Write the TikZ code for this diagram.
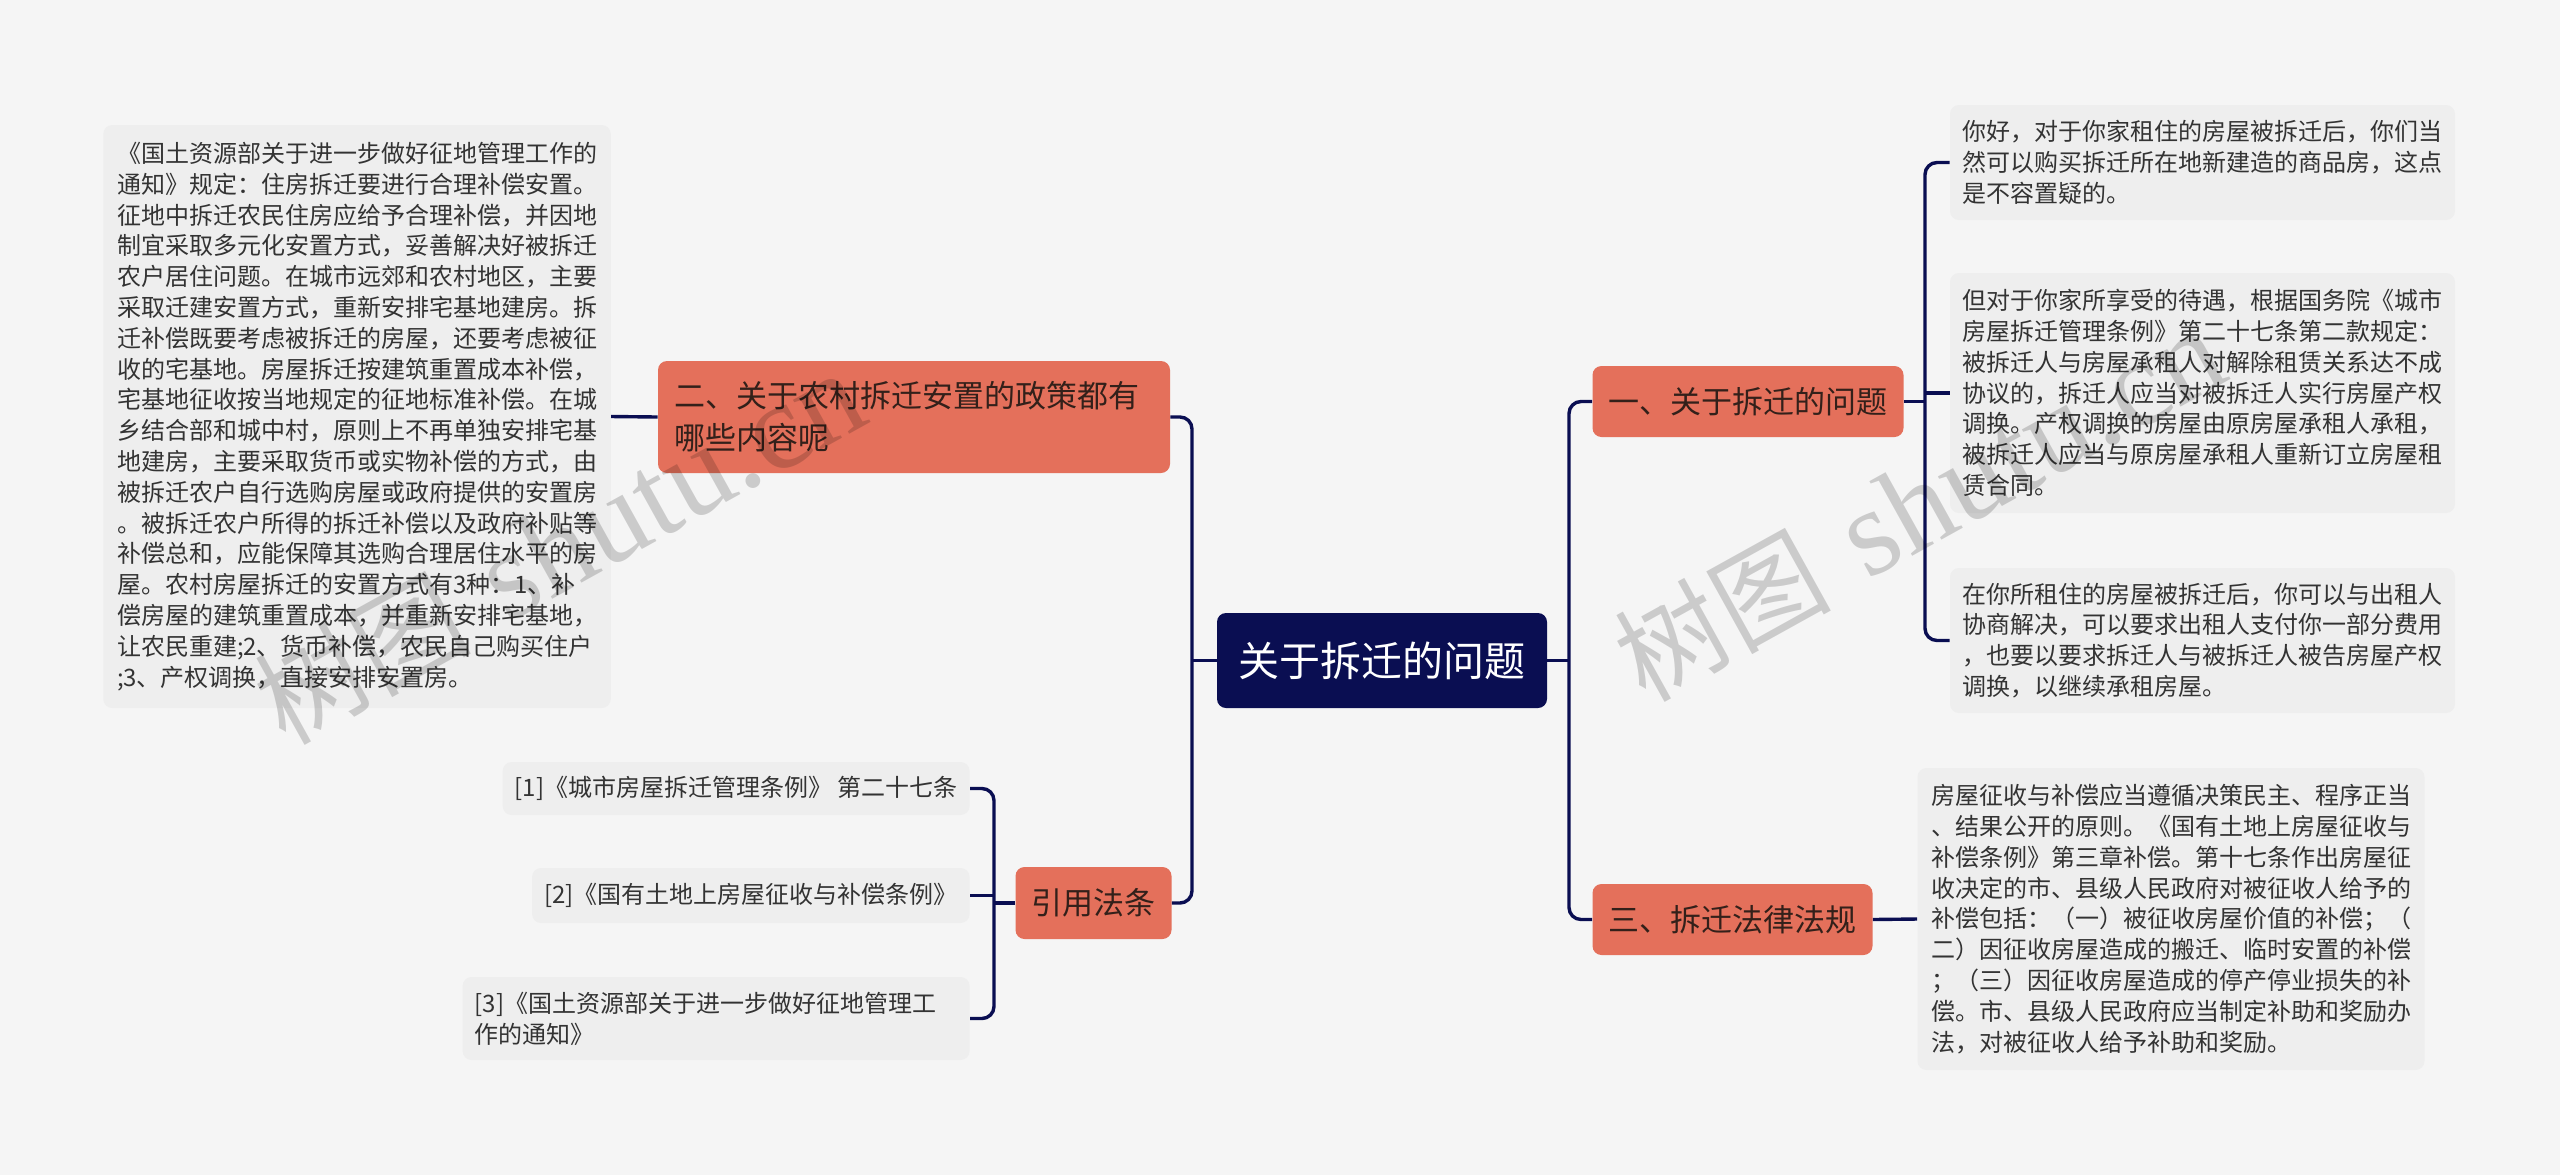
\documentclass[tikz,border=0pt]{standalone}
\usepackage{fontspec}
\setmainfont{Noto Sans CJK SC}
\newfontfamily\wmlatin{Liberation Serif}
\usetikzlibrary{positioning}
\definecolor{navy900} {HTML}{0A0E52}
\definecolor{coral500}{HTML}{E4705B}
\definecolor{coral900}{HTML}{33201A}
\definecolor{grey100} {HTML}{F5F5F5}
\definecolor{grey150} {HTML}{EEEEEE}
\definecolor{grey800} {HTML}{333333}
\tikzset{
  root/.style  ={fill=navy900, text=white, rounded corners=4.5pt,
                 inner sep=0pt, font=\fontsize{20.5}{24}\selectfont},
  topic/.style ={fill=coral500, text=coral900, rounded corners=4.5pt,
                 inner xsep=8pt, inner ysep=0pt,
                 font=\fontsize{15.5}{21}\selectfont},
  leaf/.style  ={fill=grey150, text=grey800, rounded corners=4.5pt,
                 align=left, inner xsep=6pt, inner ysep=0pt,
                 font=\fontsize{12}{15.4}\selectfont},
  cite/.style  ={leaf, anchor=east},
  link/.style  ={draw=navy900, line width=1.7pt, rounded corners=6pt},
  wmark/.style ={text=black, text opacity=0.17, inner sep=0pt,
                 rotate=29, anchor=south west,
                 font=\fontsize{54}{54}\selectfont}
}
\newcommand{\wmtext}{树图\hspace{0.35em}{\wmlatin\fontsize{62}{62}\selectfont shutu.cn}}

\begin{document}
\begin{tikzpicture}[x=0.5pt, y=-0.5pt]
\fill[grey100] (0,0) rectangle (2560,1175);
\useasboundingbox (0,0) rectangle (2560,1175);

% centre and first level
\node[root, minimum width=165pt, minimum height=47.5pt] (root)
  at (1382,660.5) {关于拆迁的问题};
\node[topic, minimum width=155pt, minimum height=35.5pt] (t1)
  at (1748,401.5) {一、关于拆迁的问题};
\node[topic, minimum width=139.5pt, minimum height=35.5pt] (t3)
  at (1732.5,919.5) {三、拆迁法律法规};
\node[topic, text width=240pt, align=left, minimum height=56pt] (t2)
  at (914,417) {二、关于农村拆迁安置的政策都有\\哪些内容呢};
\node[topic, minimum width=77.5pt, minimum height=36pt] (t4)
  at (1093.5,903) {引用法条};

% leaves on the right
\node[leaf, minimum width=252.5pt, minimum height=57.5pt] (r1)
  at (2202.5,162.5)
  {你好，对于你家租住的房屋被拆迁后，你们当\\
   然可以购买拆迁所在地新建造的商品房，这点\\
   是不容置疑的。};
\node[leaf, minimum width=252.5pt, minimum height=120pt] (r2)
  at (2202.5,393)
  {但对于你家所享受的待遇，根据国务院《城市\\
   房屋拆迁管理条例》第二十七条第二款规定：\\
   被拆迁人与房屋承租人对解除租赁关系达不成\\
   协议的，拆迁人应当对被拆迁人实行房屋产权\\
   调换。产权调换的房屋由原房屋承租人承租，\\
   被拆迁人应当与原房屋承租人重新订立房屋租\\
   赁合同。};
\node[leaf, minimum width=252.5pt, minimum height=72.5pt] (r3)
  at (2202.5,640.5)
  {在你所租住的房屋被拆迁后，你可以与出租人\\
   协商解决，可以要求出租人支付你一部分费用\\
   ，也要以要求拆迁人与被拆迁人被告房屋产权\\
   调换，以继续承租房屋。};
\node[leaf, minimum width=253.5pt, minimum height=151pt] (r4)
  at (2171,919)
  {房屋征收与补偿应当遵循决策民主、程序正当\\
   、结果公开的原则。《国有土地上房屋征收与\\
   补偿条例》第三章补偿。第十七条作出房屋征\\
   收决定的市、县级人民政府对被征收人给予的\\
   补偿包括：（一）被征收房屋价值的补偿；（\\
   二）因征收房屋造成的搬迁、临时安置的补偿\\
   ；（三）因征收房屋造成的停产停业损失的补\\
   偿。市、县级人民政府应当制定补助和奖励办\\
   法，对被征收人给予补助和奖励。};

% leaves on the left
\node[leaf, minimum width=253.75pt, minimum height=291.5pt] (lf)
  at (357,416.5)
  {《国土资源部关于进一步做好征地管理工作的\\
   通知》规定：住房拆迁要进行合理补偿安置。\\
   征地中拆迁农民住房应给予合理补偿，并因地\\
   制宜采取多元化安置方式，妥善解决好被拆迁\\
   农户居住问题。在城市远郊和农村地区，主要\\
   采取迁建安置方式，重新安排宅基地建房。拆\\
   迁补偿既要考虑被拆迁的房屋，还要考虑被征\\
   收的宅基地。房屋拆迁按建筑重置成本补偿，\\
   宅基地征收按当地规定的征地标准补偿。在城\\
   乡结合部和城中村，原则上不再单独安排宅基\\
   地建房，主要采取货币或实物补偿的方式，由\\
   被拆迁农户自行选购房屋或政府提供的安置房\\
   。被拆迁农户所得的拆迁补偿以及政府补贴等\\
   补偿总和，应能保障其选购合理居住水平的房\\
   屋。农村房屋拆迁的安置方式有3种：1、补\\
   偿房屋的建筑重置成本，并重新安排宅基地，\\
   让农民重建;2、货币补偿，农民自己购买住户\\
   ;3、产权调换，直接安排安置房。};
\node[cite, minimum height=26.5pt] (c1) at (970,788.5)
  {[1]《城市房屋拆迁管理条例》 第二十七条};
\node[cite, minimum height=27.5pt] (c2) at (970,895.5)
  {[2]《国有土地上房屋征收与补偿条例》};
\node[cite, text width=241.5pt, minimum height=41.5pt] (c3) at (970,1018.5)
  {[3]《国土资源部关于进一步做好征地管理工\\作的通知》};

% joints
\coordinate (jl) at (1192,660.5);
\coordinate (jr) at (1569,660.5);
\coordinate (j1) at (1925,401.5);
\coordinate (j4) at (994,903);

\draw[link] (root.west) -- (jl);
\draw[link] (t2.east) -| (jl) |- (t4.east);
\draw[link] (root.east) -- (jr);
\draw[link] (t1.west) -| (jr) |- (t3.west);
\draw[link] (t1.east) -- (j1);
\draw[link] (r1.west) -| (j1) |- (r3.west);
\draw[link] (r2.west) -- (r2.west -| j1);
\draw[link] (t3.east) -- (r4.west);
\draw[link] (t2.west) -- (lf.east);
\draw[link] (t4.west) -- (j4);
\draw[link] (c1.east) -| (j4) |- (c3.east);
\draw[link] (c2.east) -- (c2.east -| j4);

% watermarks
\node[wmark] (wm1) at (290,755) {\wmtext};
\node[wmark] (wm2) at (1650,712) {\wmtext};
\end{tikzpicture}
\end{document}
